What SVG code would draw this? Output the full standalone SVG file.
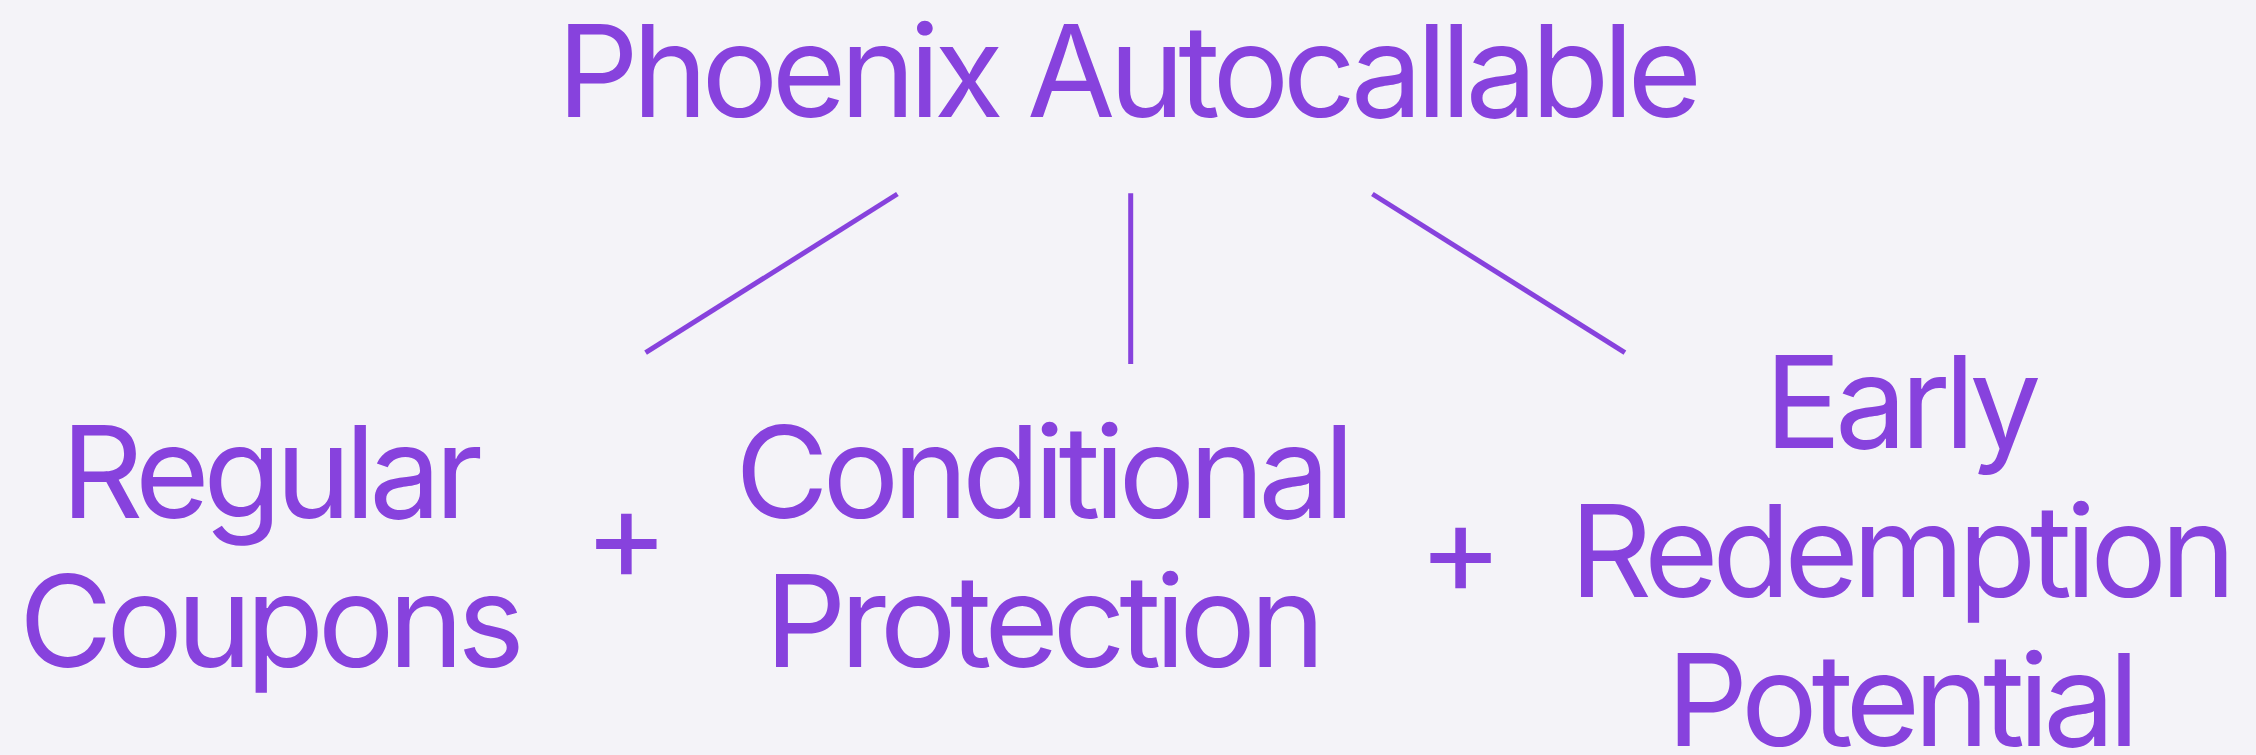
<svg xmlns="http://www.w3.org/2000/svg" width="2256" height="755" viewBox="0 0 2256 755">
  <style>
    .lbl { font-family: "Inter", "Liberation Sans", sans-serif; font-size: 128px; letter-spacing: -6.4px; fill: #8742DD; text-anchor: middle; }
    .edge { stroke: #8742DD; stroke-width: 5; fill: none; }
  </style>
  <rect width="2256" height="755" fill="#F4F3F8"/>

  <g id="connectors">
    <line class="edge" x1="897.4" y1="194" x2="645.6" y2="352.7"/>
    <line class="edge" x1="1130.7" y1="193.3" x2="1130.7" y2="364"/>
    <line class="edge" x1="1372.4" y1="194" x2="1624.9" y2="352.7"/>
  </g>

  <g id="root">
    <text class="lbl" x="1126.3" y="116.7">Phoenix Autocallable</text>
  </g>

  <g id="regular-coupons">
    <text class="lbl" x="268.8" y="517.7">Regular</text>
    <text class="lbl" x="268.8" y="666.7">Coupons</text>
  </g>

  <g id="plus-1">
    <text class="lbl" x="623.1" y="580.1">+</text>
  </g>

  <g id="conditional-protection">
    <text class="lbl" x="1041.8" y="517.7">Conditional</text>
    <text class="lbl" x="1041.8" y="666.7">Protection</text>
  </g>

  <g id="plus-2">
    <text class="lbl" x="1457.5" y="594.1">+</text>
  </g>

  <g id="early-redemption">
    <text class="lbl" x="1899.8" y="447.7">Early</text>
    <text class="lbl" x="1899.8" y="596.7">Redemption</text>
    <text class="lbl" x="1899.8" y="746">Potential</text>
  </g>
</svg>
